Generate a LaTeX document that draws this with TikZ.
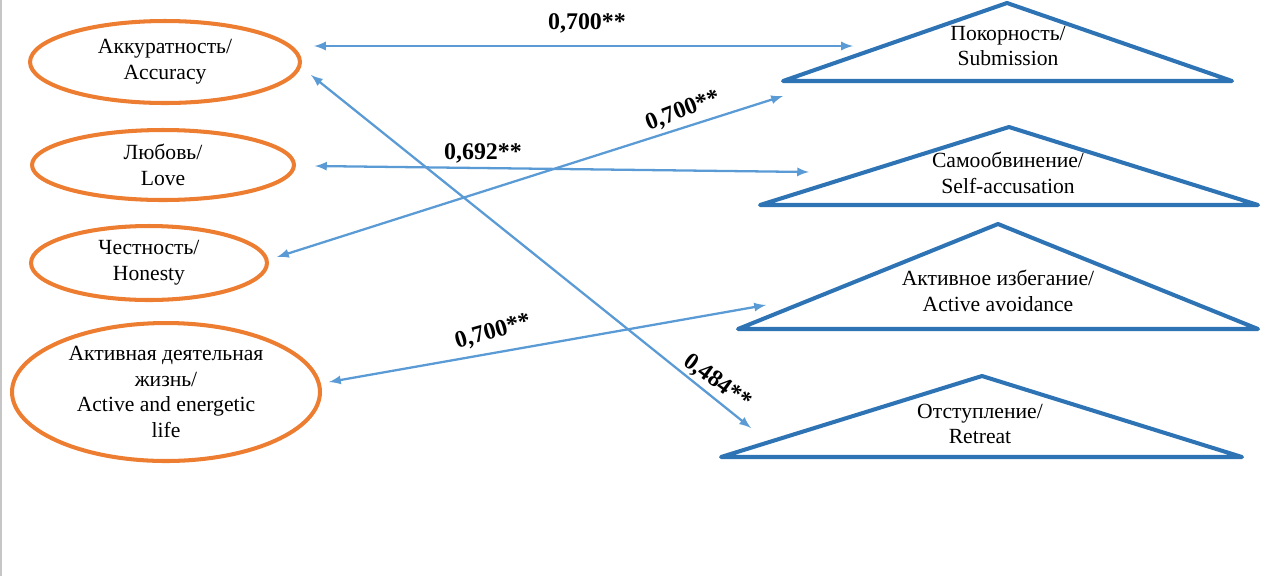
\documentclass[tikz,border=0pt]{standalone}
\usepackage{fontspec}
\setmainfont{Liberation Serif}
\usetikzlibrary{arrows}
\usetikzlibrary{shapes.geometric}
\definecolor{ovorange}{HTML}{ED7D31}
\definecolor{triblue}{HTML}{2E74B5}
\definecolor{lkblue}{HTML}{5B9BD5}
\tikzset{ov/.style={ellipse,draw=ovorange,line width=2.3pt,inner sep=0pt,align=center,font=\fontsize{12.3}{14.7}\selectfont}}
\tikzset{t/.style={align=center,inner sep=0pt,font=\fontsize{12.3}{14.7}\selectfont}}
\tikzset{tri/.style={draw=triblue,line width=2.3pt,line join=round}}
\tikzset{lk/.style={<->,>=latex,draw=lkblue,line width=1.3pt}}
\tikzset{r/.style={inner sep=0pt,font=\fontsize{13.6}{13.6}\selectfont\bfseries}}

\begin{document}
\begin{tikzpicture}[x=0.02cm,y=-0.02cm]
      \useasboundingbox (0,0) rectangle (1270,576);
      \draw [gray!45, line width=1.2pt] (1,0) -- (1,576);
      % values
      \node [ov, minimum width=5.4cm, minimum height=1.64cm] (acc) at (165,62) {Аккуратность/\\Accuracy};
      \node [ov, minimum width=5.24cm, minimum height=1.4cm] (love) at (163,165) {Любовь/\\Love};
      \node [ov, minimum width=4.72cm, minimum height=1.48cm] (hon) at (149,263) {Честность/\\Honesty};
      \node [ov, minimum width=6.16cm, minimum height=2.76cm] (life) at (166,392) {Активная деятельная\\жизнь/\\Active and energetic\\life};
      % strategies
      \coordinate (sub1) at (783,81);
      \coordinate (sub2) at (1007,3);
      \coordinate (sub3) at (1232,81);
      \draw [tri] (sub1) -- (sub2) -- (sub3) -- cycle;
      \node [t] (sub) at (1008,46) {Покорность/\\Submission};
      \coordinate (self1) at (760,205);
      \coordinate (self2) at (1009,127);
      \coordinate (self3) at (1258,205);
      \draw [tri] (self1) -- (self2) -- (self3) -- cycle;
      \node [t] (self) at (1008,173) {Самообвинение/\\Self-accusation};
      \coordinate (av1) at (738,329);
      \coordinate (av2) at (998,224);
      \coordinate (av3) at (1258,329);
      \draw [tri] (av1) -- (av2) -- (av3) -- cycle;
      \node [t] (av) at (998,291) {Активное избегание/\\Active avoidance};
      \coordinate (ret1) at (721,457);
      \coordinate (ret2) at (982,376);
      \coordinate (ret3) at (1242,457);
      \draw [tri] (ret1) -- (ret2) -- (ret3) -- cycle;
      \node [t] (ret) at (980,424) {Отступление/\\Retreat};
      % links
      \coordinate (acc-a) at (314,46);
      \coordinate (acc-b) at (311,75);
      \coordinate (love-a) at (315,166);
      \coordinate (hon-a) at (277,257);
      \coordinate (life-a) at (329,382);
      \coordinate (sub-a) at (853,46);
      \coordinate (sub-b) at (783,96);
      \coordinate (self-a) at (809,172);
      \coordinate (av-a) at (766,305);
      \coordinate (ret-a) at (751,428);
      \draw [lk] (acc-a) -- (sub-a);
      \draw [lk] (acc-b) -- (ret-a);
      \draw [lk] (love-a) -- (self-a);
      \draw [lk] (hon-a) -- (sub-b);
      \draw [lk] (life-a) -- (av-a);
      \node [r] (k1) at (587,23) {0,700**};
      \node [r] (k2) at (483,153) {0,692**};
      \node [r, rotate=21] (k3) at (683,111) {0,700**};
      \node [r, rotate=16] (k4) at (493,332) {0,700**};
      \node [r, rotate=-36] (k5) at (717,382) {0,484**};
    \end{tikzpicture}
\end{document}
